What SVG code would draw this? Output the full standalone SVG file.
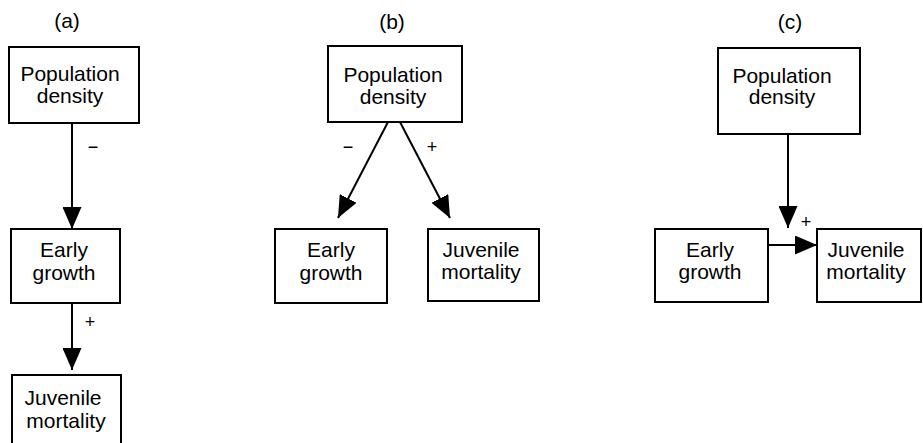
<svg xmlns="http://www.w3.org/2000/svg" width="923" height="443" viewBox="0 0 923 443">
<defs>
<style>
.box{fill:#fff;stroke:#000;stroke-width:2}
.t{font-family:"Liberation Sans",Arial,sans-serif;font-size:21px;fill:#000;text-anchor:middle}
.s{font-family:"Liberation Sans",Arial,sans-serif;font-size:18px;fill:#000;text-anchor:middle}
.c{stroke:#000;stroke-width:2;fill:none}
</style>
<marker id="ah" viewBox="0 0 22 19" refX="22" refY="9.5" markerWidth="22" markerHeight="19" markerUnits="userSpaceOnUse" orient="auto">
<path d="M0,0 L22,9.5 L0,19 z" fill="#000"/>
</marker>
</defs>
<rect width="923" height="443" fill="#fff"/>
<text class="t" x="67" y="28">(a)</text>
<text class="t" x="392" y="29">(b)</text>
<text class="t" x="790" y="29">(c)</text>
<g id="connectors">
<line class="c" x1="72" y1="123" x2="72" y2="229" marker-end="url(#ah)"/>
<line class="c" x1="72" y1="303" x2="72" y2="370" marker-end="url(#ah)"/>
<line class="c" x1="388" y1="122" x2="338" y2="218" marker-end="url(#ah)"/>
<line class="c" x1="400" y1="122" x2="450" y2="218" marker-end="url(#ah)"/>
<line class="c" x1="788" y1="134" x2="788" y2="228" marker-end="url(#ah)"/>
<line class="c" x1="768" y1="245" x2="817" y2="245" marker-end="url(#ah)"/>
<text class="s" x="93" y="153">−</text>
<text class="s" x="90" y="328">+</text>
<text class="s" x="348" y="153">−</text>
<text class="s" x="432" y="153">+</text>
<text class="s" x="806" y="228">+</text>
</g>
<g id="a-pop">
<rect class="box" x="9" y="47" width="130" height="76"/>
<text class="t" x="70" y="81">Population</text>
<text class="t" x="70" y="103">density</text>
</g>
<g id="a-early">
<rect class="box" x="11" y="229" width="109" height="74"/>
<text class="t" x="64" y="257">Early</text>
<text class="t" x="64" y="280">growth</text>
</g>
<g id="a-juv">
<rect class="box" x="12" y="375" width="109" height="80"/>
<text class="t" x="63" y="405">Juvenile</text>
<text class="t" x="66" y="428">mortality</text>
</g>
<g id="b-pop">
<rect class="box" x="328" y="46" width="134" height="76"/>
<text class="t" x="393" y="82">Population</text>
<text class="t" x="393" y="104">density</text>
</g>
<g id="b-early">
<rect class="box" x="275" y="229" width="112" height="74"/>
<text class="t" x="331" y="257">Early</text>
<text class="t" x="331" y="280">growth</text>
</g>
<g id="b-juv">
<rect class="box" x="428" y="229" width="111" height="72"/>
<text class="t" x="481" y="257">Juvenile</text>
<text class="t" x="481" y="279">mortality</text>
</g>
<g id="c-pop">
<rect class="box" x="718" y="48" width="142" height="86"/>
<text class="t" x="782" y="83">Population</text>
<text class="t" x="782" y="104">density</text>
</g>
<g id="c-early">
<rect class="box" x="655" y="229" width="113" height="73"/>
<text class="t" x="710" y="257">Early</text>
<text class="t" x="710" y="279">growth</text>
</g>
<g id="c-juv">
<rect class="box" x="817" y="229" width="104" height="73"/>
<text class="t" x="866" y="257">Juvenile</text>
<text class="t" x="866" y="279">mortality</text>
</g>
</svg>
